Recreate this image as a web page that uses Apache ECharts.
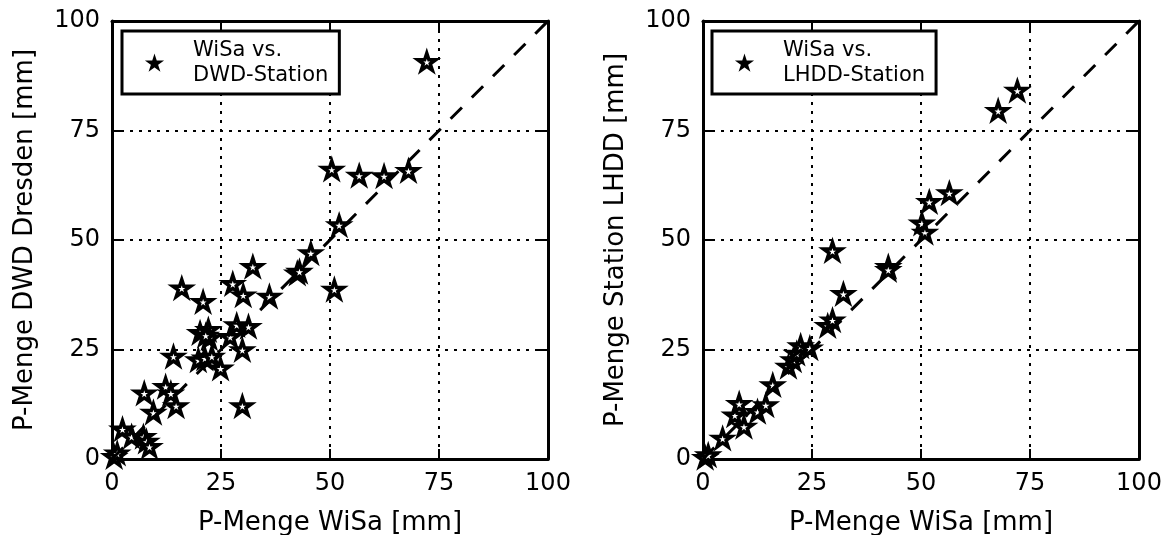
<!DOCTYPE html>
<html>
<head>
<meta charset="utf-8">
<script src="https://cdn.jsdelivr.net/npm/echarts@6/dist/echarts.min.js"></script>
<style>html,body{margin:0;padding:0;background:#fff;}#c{width:1173px;height:535px;}</style>
</head>
<body>
<div id="c"></div>
<script>
// ---- data ----
var tickValues = [0, 25, 50, 75, 100];
var wisaVsDwd = [0.5, 1.2, 2.4, 4.5, 7.2, 7.9, 8.6, 9.5, 7.4, 12.3, 13.5, 14.7, 14.1, 16.0, 19.8, 21.3, 22.9, 24.9, 20.2, 22.1, 22.3, 21.5, 20.9, 27.1, 28.6, 31.3, 29.9, 29.9, 27.7, 30.1, 32.3, 36.1, 42.5, 43.0, 45.6, 50.4, 51.0, 52.1, 56.7, 62.4, 68.0, 72.2];
var dwdDresden = [0.5, 1.3, 6.8, 5.1, 5.1, 4.0, 2.8, 10.6, 15.0, 16.5, 15.0, 12.1, 23.4, 39.0, 22.6, 23.0, 23.4, 20.7, 28.8, 29.5, 27.6, 28.2, 35.9, 27.9, 30.6, 30.2, 24.9, 12.1, 40.0, 37.4, 43.9, 37.1, 42.4, 42.8, 47.0, 66.1, 38.7, 53.4, 64.7, 64.6, 65.8, 90.7];
var wisaVsLhdd = [0.5, 1.2, 4.5, 7.3, 8.3, 9.4, 12.5, 14.4, 16.0, 19.6, 20.7, 21.5, 22.4, 24.5, 28.6, 29.7, 29.7, 32.2, 42.5, 42.5, 50.2, 50.9, 51.9, 56.5, 67.7, 72.1];
var lhddStation = [0.3, 0.9, 4.7, 10.0, 12.6, 7.4, 10.8, 12.3, 16.9, 21.1, 22.6, 24.1, 25.8, 25.3, 30.4, 31.7, 47.5, 37.7, 43.9, 43.2, 53.8, 51.7, 58.7, 60.7, 79.5, 84.1];
var oneToOne = [0, 100];
var xLabel = 'P-Menge WiSa [mm]';
var yLabelLeft = 'P-Menge DWD Dresden [mm]';
var yLabelRight = 'P-Menge Station LHDD [mm]';
var legendLeft = 'WiSa vs.\nDWD-Station';
var legendRight = 'WiSa vs.\nLHDD-Station';

function pairs(xs, ys) { return xs.map(function (x, i) { return [x, ys[i]]; }); }

var FONT = 'DejaVu Sans';
var STAR = 'path://M50,0 L61.23,34.55 L97.55,34.55 L68.17,55.9 L79.39,90.45 L50,69.1 L20.61,90.45 L31.83,55.9 L2.45,34.55 L38.77,34.55 Z';

var gridLine = { show: true, lineStyle: { color: '#000', type: [3, 6], width: 2 } };
function mainX(gi) {
  return {
    gridIndex: gi, type: 'value', min: 0, max: 100, interval: 25, position: 'bottom',
    name: xLabel, nameLocation: 'middle', nameGap: 51,
    nameTextStyle: { fontFamily: FONT, fontSize: 26, color: '#000' },
    axisLine: { show: true, onZero: false, lineStyle: { color: '#000', width: 3 } },
    axisTick: { show: true, inside: true, length: 10, lineStyle: { color: '#000', width: 2 } },
    axisLabel: { fontFamily: FONT, fontSize: 24, color: '#000', margin: 13 },
    splitLine: gridLine
  };
}
function topX(gi) {
  return {
    gridIndex: gi, type: 'value', min: 0, max: 100, interval: 25, position: 'top',
    axisLine: { show: true, onZero: false, lineStyle: { color: '#000', width: 3 } },
    axisTick: { show: true, inside: true, length: 10, lineStyle: { color: '#000', width: 2 } },
    axisLabel: { show: false }, splitLine: { show: false }
  };
}
function mainY(gi, name) {
  return {
    gridIndex: gi, type: 'value', min: 0, max: 100, interval: 25, position: 'left',
    name: name, nameLocation: 'middle', nameGap: 74,
    nameTextStyle: { fontFamily: FONT, fontSize: 26, color: '#000' },
    axisLine: { show: true, onZero: false, lineStyle: { color: '#000', width: 3 } },
    axisTick: { show: true, inside: true, length: 10, lineStyle: { color: '#000', width: 2 } },
    axisLabel: { fontFamily: FONT, fontSize: 24, color: '#000', margin: 12 },
    splitLine: gridLine
  };
}
function rightY(gi) {
  return {
    gridIndex: gi, type: 'value', min: 0, max: 100, interval: 25, position: 'right',
    axisLine: { show: true, onZero: false, lineStyle: { color: '#000', width: 3 } },
    axisTick: { show: true, inside: true, length: 10, lineStyle: { color: '#000', width: 2 } },
    axisLabel: { show: false }, splitLine: { show: false }
  };
}
function legendFor(name, left) {
  return {
    data: [name], left: left, top: 31, orient: 'vertical',
    padding: [7, 11, 6, 25], borderColor: '#000', borderWidth: 3, borderRadius: 0,
    backgroundColor: '#fff', itemWidth: 13, itemHeight: 13, itemGap: 0,
    itemStyle: { color: '#000', borderColor: '#000', borderWidth: 2 },
    textStyle: { fontFamily: FONT, fontSize: 21, color: '#000', lineHeight: 25, padding: [0, 0, 0, 27] }
  };
}
function scatter(name, xi, data) {
  return {
    name: name, type: 'scatter', xAxisIndex: xi, yAxisIndex: xi, data: data,
    symbol: STAR, symbolSize: 18, symbolKeepAspect: true,
    itemStyle: { color: '#fff', borderColor: '#000', borderWidth: 3.5, opacity: 1 },
    z: 3
  };
}
function diag(xi) {
  return {
    type: 'line', xAxisIndex: xi, yAxisIndex: xi, data: pairs(oneToOne, oneToOne),
    symbol: 'none', lineStyle: { color: '#000', width: 3, type: [16, 14] }, z: 4, silent: true
  };
}

var chart = echarts.init(document.getElementById('c'), null, { renderer: 'canvas' });
chart.setOption({
  animation: false,
  backgroundColor: '#fff',
  grid: [
    { left: 112, right: 625, top: 21, bottom: 76, containLabel: false, outerBoundsMode: 'none' },
    { left: 703, right: 34, top: 21, bottom: 76, containLabel: false, outerBoundsMode: 'none' }
  ],
  xAxis: [mainX(0), mainX(1), topX(0), topX(1)],
  yAxis: [mainY(0, yLabelLeft), mainY(1, yLabelRight), rightY(0), rightY(1)],
  legend: [legendFor(legendLeft, 122), legendFor(legendRight, 712)],
  series: [
    scatter(legendLeft, 0, pairs(wisaVsDwd, dwdDresden)),
    diag(0),
    scatter(legendRight, 1, pairs(wisaVsLhdd, lhddStation)),
    diag(1)
  ]
});
</script>
</body>
</html>
